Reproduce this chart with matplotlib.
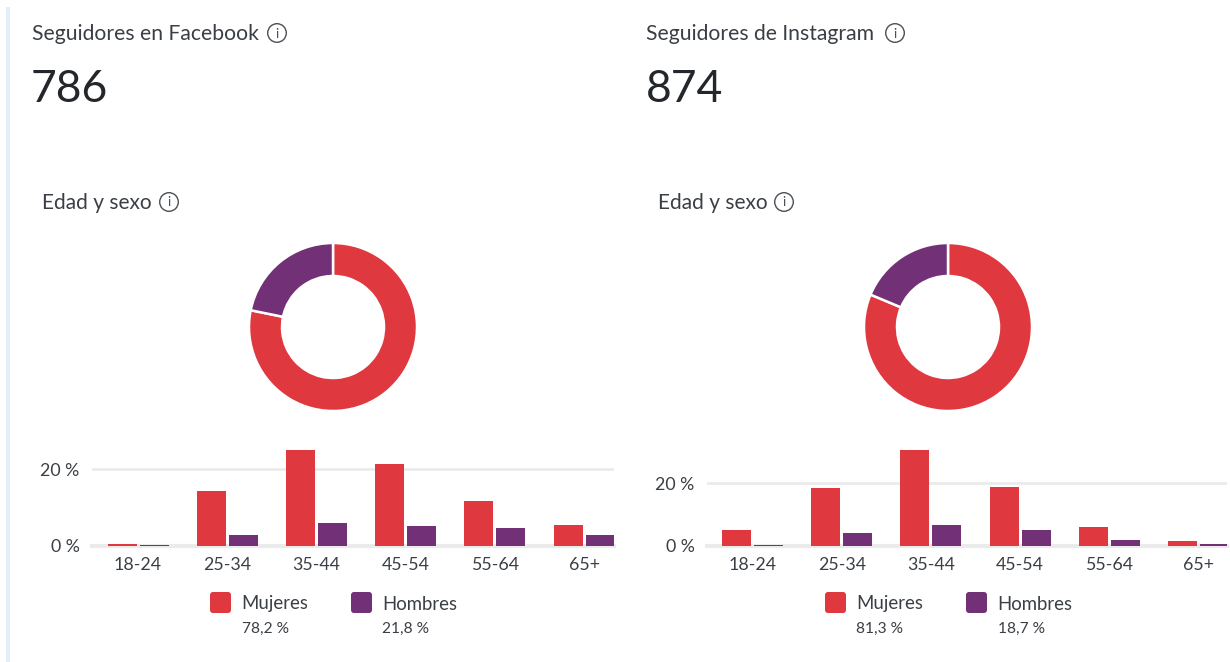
import matplotlib
matplotlib.use('Agg')
from matplotlib import pyplot as plt
from matplotlib.patches import Circle, FancyBboxPatch, Rectangle
import numpy as np

plt.rcParams['font.family'] = ['Lato', 'DejaVu Sans']

RED = '#DF383F'
PURPLE = '#723077'
TEXT = '#3a3f45'
GRID = '#ebebeb'
W, H = 1230, 662

ages = ['18-24', '25-34', '35-44', '45-54', '55-64', '65+']
series_names = ['Mujeres', 'Hombres']

fb_title = 'Seguidores en Facebook'
fb_total = '786'
fb_share = [78.2, 21.8]
fb_women = [0.4, 14.4, 25.1, 21.5, 11.7, 5.4]
fb_men = [0.3, 3.0, 5.9, 5.3, 4.6, 2.8]

ig_title = 'Seguidores de Instagram'
ig_total = '874'
ig_share = [81.3, 18.7]
ig_women = [5.1, 18.6, 30.6, 18.9, 6.2, 1.5]
ig_men = [0.3, 4.1, 6.7, 5.0, 2.0, 0.5]


def px_axes(fig, left, top, right, bottom):
    # axes placed by reference pixels
    return fig.add_axes([left / W, 1 - bottom / H, (right - left) / W, (bottom - top) / H])


def info_icon(bg, x, y, r=10):
    bg.add_patch(Circle((x, y), r - 0.7, fill=False, edgecolor='#4a4f55', linewidth=1.0))
    bg.text(x, y + 0.5, 'i', fontsize=9.5, color='#4a4f55', ha='center', va='center')


def draw_panel(fig, bg, x0, title, title_icon, total, share, women, men, px_per_pct, first_x, last_px):
    # header
    bg.text(x0 + 31.5, 34, title, fontsize=15.2, color=TEXT, ha='left', va='center')
    info_icon(bg, x0 + title_icon, 33)
    bg.text(x0 + 31, 89, total, fontsize=32, color='#23272b', ha='left', va='center')
    bg.text(x0 + 42.5, 203, 'Edad y sexo', fontsize=15, color=TEXT, ha='left', va='center')
    info_icon(bg, x0 + 169, 202)

    # donut, clockwise from the top
    cx = x0 + 333
    ax_pie = px_axes(fig, cx - 90, 327 - 90, cx + 90, 327 + 90)
    ax_pie.pie(share, colors=[RED, PURPLE], startangle=90, counterclock=False, radius=84 / 90,
               wedgeprops={'width': 33 / 90, 'edgecolor': 'white', 'linewidth': 1.8})
    ax_pie.set_xlim(-1, 1)
    ax_pie.set_ylim(-1, 1)
    ax_pie.set_aspect('equal')

    # bars
    step = 89.2
    left, right = x0 + 92, last_px
    top, bottom = 440, 546
    ax = px_axes(fig, left, top, right, bottom)
    x = np.arange(len(ages))
    ax.bar(x - 16 / step, women, width=29 / step, color=RED, zorder=3)
    ax.bar(x + 16 / step, men, width=29 / step, color=PURPLE, zorder=3)
    ax.set_xlim((left - first_x) / step, (right - first_x) / step)
    ax.set_ylim(0, (bottom - top) / px_per_pct)
    ax.set_yticks([0, 20])
    ax.set_yticklabels(['0 %', '20 %'])
    ax.set_xticks(x)
    ax.set_xticklabels(ages, clip_on=False)
    ax.tick_params(axis='both', length=0, labelsize=12.8, labelcolor=TEXT)
    ax.tick_params(axis='x', pad=8)
    ax.tick_params(axis='y', pad=9)
    ax.grid(axis='y', color=GRID, linewidth=2, zorder=0)
    ax.axhline(0, color=GRID, linewidth=3, zorder=1, clip_on=False)
    for side in ax.spines.values():
        side.set_visible(False)
    ax.patch.set_alpha(0)

    # legend
    for lx, color, name, value in zip([x0 + 210, x0 + 351], [RED, PURPLE], series_names, share):
        bg.add_patch(FancyBboxPatch((lx + 2, 594), 17, 17, boxstyle='round,pad=2,rounding_size=3',
                                    facecolor=color, edgecolor='none'))
        bg.text(lx + 31.5, 604, name, fontsize=13.4, color=TEXT, ha='left', va='center')
        label = f'{value:.1f} %'.replace('.', ',')
        bg.text(lx + 31.5, 629, label, fontsize=11.2, color=TEXT, ha='left', va='center')


fig = plt.figure(figsize=(W / 100, H / 100), dpi=100, facecolor='white')
bg = fig.add_axes([0, 0, 1, 1])
bg.set_xlim(0, W)
bg.set_ylim(H, 0)
bg.axis('off')
bg.add_patch(Rectangle((6, 7), 4, H - 7, facecolor='#e1eff9', edgecolor='none'))

draw_panel(fig, bg, 0, fb_title, 277, fb_total, fb_share, fb_women, fb_men, 3.83, 138, 614)
draw_panel(fig, bg, 615, ig_title, 280, ig_total, ig_share, ig_women, ig_men, 3.13, 752.5, 1227)

fig.savefig('out.png', dpi=100)
